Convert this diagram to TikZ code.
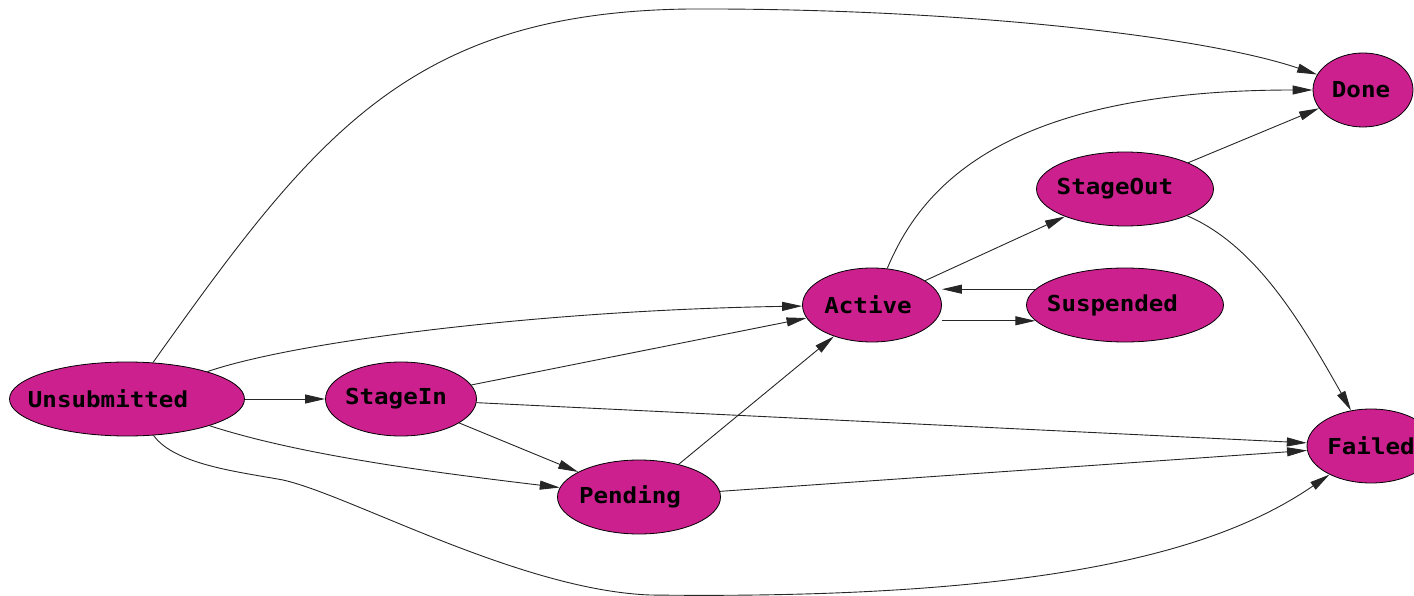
\documentclass[tikz,border=0pt]{standalone}
\usepackage{fontspec}
\setmonofont{DejaVu Sans Mono}[FakeStretch=1.1]
\usetikzlibrary{shapes.geometric,arrows.meta}
\definecolor{statepink}{RGB}{205,32,143}
\begin{document}
\begin{tikzpicture}[x=1pt,y=-1pt,
  state/.style={ellipse,draw=black,line width=0.8pt,fill=statepink,inner sep=0pt,minimum height=74pt,font=\fontsize{22}{22}\selectfont\ttfamily\bfseries},
  lshift/.style={execute at begin node={\hspace*{-#1}}},
  trans/.style={draw=black!85,line width=0.9pt,-{Triangle[length=20pt,width=9pt]}}]
\useasboundingbox (0,0) rectangle (1414,596);
\node[state,minimum width=235pt,lshift=38pt] (unsub) at (127,399) {Unsubmitted};
\node[state,minimum width=151pt,lshift=10pt] (stagein) at (401,399) {StageIn};
\node[state,minimum width=163pt,lshift=18pt] (pending) at (639,497) {Pending};
\node[state,minimum width=139pt,lshift=8pt] (active) at (872,305) {Active};
\node[state,minimum width=197pt,lshift=25pt] (susp) at (1125,305) {Suspended};
\node[state,minimum width=177pt,lshift=20pt] (stageout) at (1125,189) {StageOut};
\node[state,minimum width=100pt,lshift=4pt] (done) at (1363,90) {Done};
\node[state,minimum width=128pt] (failed) at (1371,446) {Failed};
\draw[trans] (unsub) .. controls (315,135) and (410,12) .. (690,9) .. controls (950,8) and (1200,35) .. (done);
\draw[trans] (unsub) .. controls (300,340) and (550,310) .. (active);
\draw[trans] (unsub) -- (stagein);
\draw[trans] (unsub) .. controls (300,455) and (430,472) .. (pending);
\draw[trans] (unsub) .. controls (175,465) and (240,472) .. (283,480) .. controls (350,495) and (520,590) .. (650,595) .. controls (1050,600) and (1220,550) .. (failed);
\draw[trans] (stagein) -- (active);
\draw[trans] (stagein) -- (pending);
\draw[trans] (stagein) -- (failed);
\draw[trans] (pending) -- (active);
\draw[trans] (pending) -- (failed);
\draw[trans] (active) -- (stageout);
\draw[trans] (active) .. controls (920,190) and (1000,90) .. (done);
\draw[trans] (active.east |- susp.190) -- (susp.190);
\draw[trans] (susp.170) -- (susp.170 -| active.east);
\draw[trans] (stageout) -- (done);
\draw[trans] (stageout) .. controls (1255,245) and (1300,320) .. (failed);
\end{tikzpicture}
\end{document}
